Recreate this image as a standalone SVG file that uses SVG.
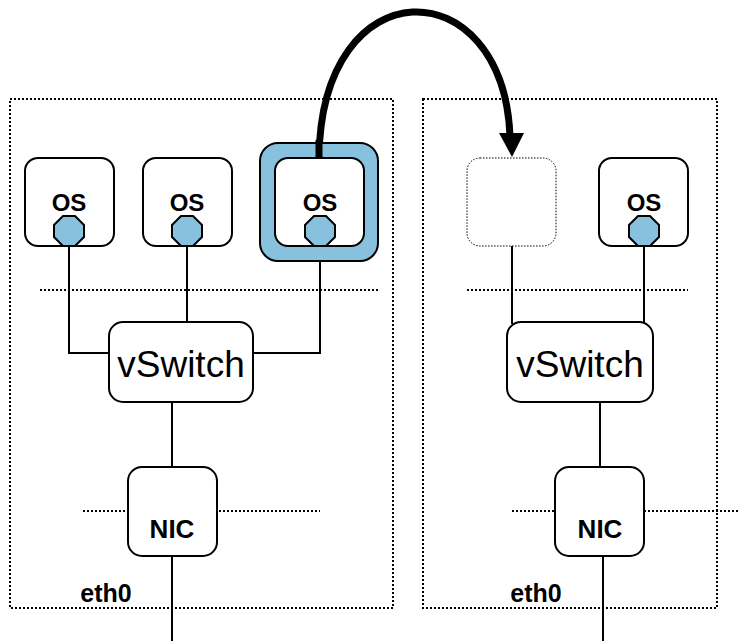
<svg xmlns="http://www.w3.org/2000/svg" width="738" height="641" viewBox="0 0 738 641">
  <style>
    .host { fill: none; stroke: #000; stroke-width: 2; stroke-dasharray: 2 2; }
    .divider { fill: none; stroke: #000; stroke-width: 2; stroke-dasharray: 2 2; }
    .box { fill: #fff; stroke: #000; stroke-width: 2; }
    .ghost { fill: #fff; stroke: #000; stroke-width: 1; stroke-dasharray: 1.5 1.5; }
    .port { fill: #88c1de; stroke: #000; stroke-width: 2; }
    .halo { fill: #88c1de; stroke: #000; stroke-width: 2; }
    .wire { fill: none; stroke: #000; stroke-width: 2; }
    .move { fill: none; stroke: #000; stroke-width: 7; }
    .lbl { font-family: "Liberation Sans", Arial, sans-serif; font-weight: bold; text-anchor: middle; fill: #000; }
    .sw { font-family: "Liberation Sans", Arial, sans-serif; font-size: 37px; text-anchor: middle; fill: #000; }
  </style>
  <defs>
    <polygon id="oct" class="port" points="-6,-15 6,-15 15,-6 15,6 6,15 -6,15 -15,6 -15,-6"/>
  </defs>

  <!-- physical hosts -->
  <g id="host-a">
    <rect class="host" x="10" y="99" width="383" height="509"/>
    <text class="lbl" x="106" y="602" font-size="25">eth0</text>
  </g>
  <g id="host-b">
    <rect class="host" x="423" y="99" width="294" height="509"/>
    <text class="lbl" x="536" y="602" font-size="25">eth0</text>
  </g>

  <!-- layer dividers -->
  <g id="dividers">
    <line class="divider" x1="40" y1="290" x2="379" y2="290"/>
    <line class="divider" x1="83" y1="511" x2="320" y2="511"/>
    <line class="divider" x1="467" y1="290" x2="688" y2="290"/>
    <line class="divider" x1="512" y1="511" x2="738" y2="511"/>
  </g>

  <!-- connectors -->
  <g id="connectors">
    <polyline class="wire" points="69,246 69,353 109,353"/>
    <line class="wire" x1="187" y1="246" x2="187" y2="322"/>
    <polyline class="wire" points="320,246 320,353 253,353"/>
    <line class="wire" x1="172" y1="402" x2="172" y2="467"/>
    <line class="wire" x1="172" y1="556" x2="172" y2="641"/>
    <line class="wire" x1="512" y1="246" x2="512" y2="324"/>
    <line class="wire" x1="644" y1="246" x2="644" y2="324"/>
    <line class="wire" x1="600" y1="402" x2="600" y2="467"/>
    <line class="wire" x1="603" y1="556" x2="603" y2="641"/>
    <!-- migration arrow -->
    <path class="move" d="M319,158 C321,-34 503,-32 510,136"/>
    <polygon points="499,133 524,133 512,157" fill="#000"/>
  </g>

  <!-- guests on host A -->
  <g id="vm-a1">
    <rect class="box" x="25" y="158" width="89" height="88" rx="13"/>
    <text class="lbl" x="69" y="211" font-size="24">OS</text>
    <use href="#oct" x="69" y="231"/>
  </g>
  <g id="vm-a2">
    <rect class="box" x="143" y="158" width="89" height="88" rx="13"/>
    <text class="lbl" x="187" y="211" font-size="24">OS</text>
    <use href="#oct" x="187" y="231"/>
  </g>
  <g id="vm-a3">
    <rect class="halo" x="260" y="143" width="118" height="118" rx="18"/>
    <rect class="box" x="275" y="158" width="89" height="88" rx="13"/>
    <line class="move" x1="319" y1="140" x2="319" y2="158"/>
    <text class="lbl" x="320" y="211" font-size="24">OS</text>
    <use href="#oct" x="320" y="231"/>
  </g>

  <!-- host A switching -->
  <g id="vswitch-a">
    <rect class="box" x="109" y="322" width="144" height="80" rx="14"/>
    <text class="sw" x="181" y="377">vSwitch</text>
  </g>
  <g id="nic-a">
    <rect class="box" x="128" y="467" width="89" height="89" rx="14"/>
    <text class="lbl" x="172" y="538" font-size="26">NIC</text>
  </g>

  <!-- guests on host B -->
  <g id="vm-b-slot">
    <rect class="ghost" x="467" y="158" width="89" height="88" rx="13"/>
  </g>
  <g id="vm-b1">
    <rect class="box" x="599" y="158" width="89" height="88" rx="13"/>
    <text class="lbl" x="644" y="211" font-size="24">OS</text>
    <use href="#oct" x="644" y="231"/>
  </g>

  <!-- host B switching -->
  <g id="vswitch-b">
    <rect class="box" x="507" y="322" width="146" height="80" rx="14"/>
    <text class="sw" x="580" y="377">vSwitch</text>
  </g>
  <g id="nic-b">
    <rect class="box" x="555" y="467" width="89" height="89" rx="14"/>
    <text class="lbl" x="600" y="538" font-size="26">NIC</text>
  </g>
</svg>
